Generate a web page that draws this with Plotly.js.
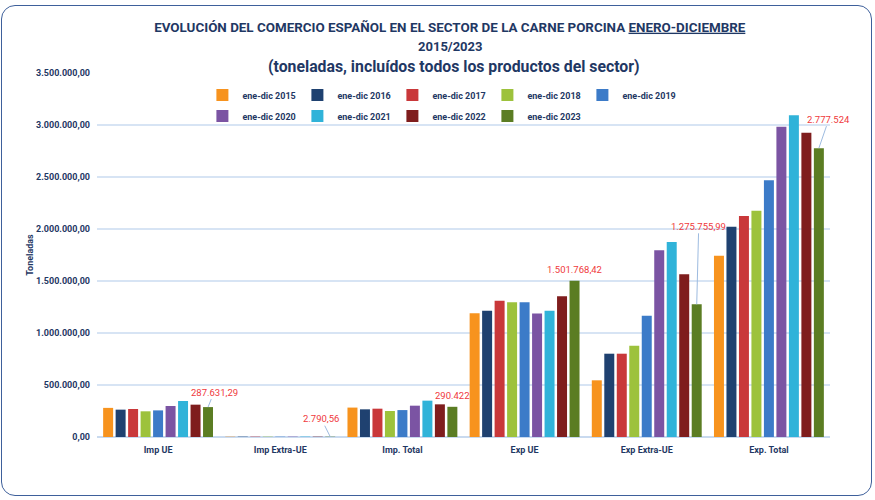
<!DOCTYPE html>
<html>
<head>
<meta charset="utf-8">
<script src="https://cdn.plot.ly/plotly-3.0.1.min.js"></script>
<style>
  html, body { margin: 0; padding: 0; background: #ffffff; }
  #wrap { position: relative; width: 875px; height: 500px; }
  #chart { width: 875px; height: 500px; }
  #frame { position: absolute; left: 1px; top: 5px; width: 869px; height: 489px;
           border: 1.6px solid #3E609B; border-radius: 14px; pointer-events: none; }
</style>
</head>
<body>
<div id="wrap">
  <div id="chart"></div>
  <div id="frame"></div>
</div>
<script>
// Categories on the x axis
const categories = ["Imp UE", "Imp Extra-UE", "Imp. Total", "Exp UE", "Exp Extra-UE", "Exp. Total"];

// Series names
const seriesNames = ["ene-dic 2015", "ene-dic 2016", "ene-dic 2017", "ene-dic 2018", "ene-dic 2019",
                     "ene-dic 2020", "ene-dic 2021", "ene-dic 2022", "ene-dic 2023"];

// Values (toneladas) per year, in category order
const v2015 = [280000, 2900, 282900, 1190000, 545000, 1743000];
const v2016 = [263000, 3100, 266100, 1215000, 801000, 2022000];
const v2017 = [269000, 3300, 272300, 1311000, 801000, 2125000];
const v2018 = [247000, 3000, 250000, 1295000, 878000, 2176000];
const v2019 = [256000, 2800, 258800, 1295000, 1167000, 2468000];
const v2020 = [298000, 3200, 301200, 1187000, 1795000, 2984000];
const v2021 = [346000, 3500, 349500, 1214000, 1875000, 3093000];
const v2022 = [311000, 3000, 314000, 1353000, 1564000, 2926000];
const v2023 = [287631.29, 2790.56, 290422, 1501768.42, 1275755.99, 2777524];

// Labels shown for 2023
const labels2023 = ["287.631,29", "2.790,56", "290.422", "1.501.768,42", "1.275.755,99", "2.777.524"];

// Y tick values
const yTicks = [0, 500000, 1000000, 1500000, 2000000, 2500000, 3000000, 3500000];

const colors = ["#F7931E", "#1F4170", "#C9383A", "#9DC23C", "#3C7BC8",
                "#7B54A3", "#30B3D9", "#7F1D1D", "#5B7D23"];

const allValues = [v2015, v2016, v2017, v2018, v2019, v2020, v2021, v2022, v2023];

const NAVY = "#1F3864";
const FONT = "Roboto, 'Open Sans', sans-serif";

const traces = allValues.map((vals, i) => ({
  type: "bar",
  name: seriesNames[i],
  x: categories,
  y: vals,
  marker: { color: colors[i], line: { width: 0 } },
  legend: i < 5 ? "legend" : "legend2",
  hoverinfo: "skip"
}));

// Annotation settings for the 2023 labels (offsets in pixels)
const labelStyle = [
  { arrow: true, ax: 6, ay: -15 },
  { arrow: true, ax: -9, ay: -18 },
  { arrow: false, yshift: 4 },
  { arrow: false, yshift: 4 },
  { arrow: true, ax: 2, ay: -78 },
  { arrow: true, ax: 10, ay: -29 }
];
const offset2023 = 0.409; // position of the last bar inside a group (category units)

const annotations = labels2023.map((t, i) => {
  const s = labelStyle[i];
  const a = {
    x: i + offset2023, y: v2023[i], xref: "x", yref: "y",
    text: t, font: { family: FONT, size: 9.5, color: "#F0393C" },
    showarrow: s.arrow
  };
  if (s.arrow) {
    Object.assign(a, { ax: s.ax, ay: s.ay, arrowhead: 0, arrowwidth: 1, arrowcolor: "#9DBBE0", standoff: 0 });
  } else {
    Object.assign(a, { xanchor: "center", yanchor: "bottom", yshift: s.yshift });
  }
  return a;
});

annotations.push({
  xref: "paper", yref: "paper", x: 0.482, y: 1.074, xanchor: "center", yanchor: "middle",
  text: "<b>2015/2023</b>", showarrow: false,
  font: { family: FONT, size: 13, color: NAVY }
});
annotations.push({
  xref: "paper", yref: "paper", x: 0.487, y: 1.0165, xanchor: "center", yanchor: "middle",
  text: "<b>(toneladas, incluídos todos los productos del sector)</b>", showarrow: false,
  font: { family: FONT, size: 15.8, color: NAVY }
});

const legendCommon = {
  orientation: "h", xanchor: "left", yanchor: "middle",
  font: { family: FONT, size: 9, color: NAVY, weight: "bold" },
  entrywidth: 50, entrywidthmode: "pixels", bgcolor: "rgba(0,0,0,0)",
  itemclick: false, itemdoubleclick: false
};

const layout = {
  width: 875, height: 500,
  margin: { l: 97, r: 45, t: 73, b: 63, autoexpand: false },
  paper_bgcolor: "#ffffff", plot_bgcolor: "#ffffff",
  separators: ",.",
  barmode: "group", bargap: 0.08, bargroupgap: 0.2,
  showlegend: true,
  title: {
    text: "<b>EVOLUCIÓN DEL COMERCIO ESPAÑOL EN EL SECTOR DE LA CARNE PORCINA <u>ENERO-DICIEMBRE</u></b>",
    x: 0.514, xanchor: "center", y: 0.946, yanchor: "middle",
    font: { family: FONT, size: 13.4, color: NAVY }
  },
  xaxis: {
    type: "category", range: [-0.5, categories.length - 0.5],
    tickfont: { family: FONT, size: 9, color: NAVY, weight: "bold" },
    ticklabelstandoff: 6,
    showline: false, ticks: "", showgrid: false, zeroline: false, fixedrange: true
  },
  yaxis: {
    range: [0, 3500000], tickvals: yTicks, tickformat: ",.2f",
    tickfont: { family: FONT, size: 9, color: NAVY, weight: "bold" },
    gridcolor: "#D7E4F4", gridwidth: 1.5,
    zeroline: true, zerolinecolor: "#C9DAEF", zerolinewidth: 1.5,
    showline: false, ticks: "", ticklabelstandoff: 6, fixedrange: true,
    title: { text: "<b>Toneladas</b>", font: { family: FONT, size: 9, color: NAVY }, standoff: 0 }
  },
  legend: Object.assign({}, legendCommon, { x: 0.1438, y: 0.9396 }),
  legend2: Object.assign({}, legendCommon, { x: 0.1438, y: 0.8819 }),
  annotations: annotations
};

Plotly.newPlot("chart", traces, layout, { displayModeBar: false, staticPlot: true });
</script>
</body>
</html>
